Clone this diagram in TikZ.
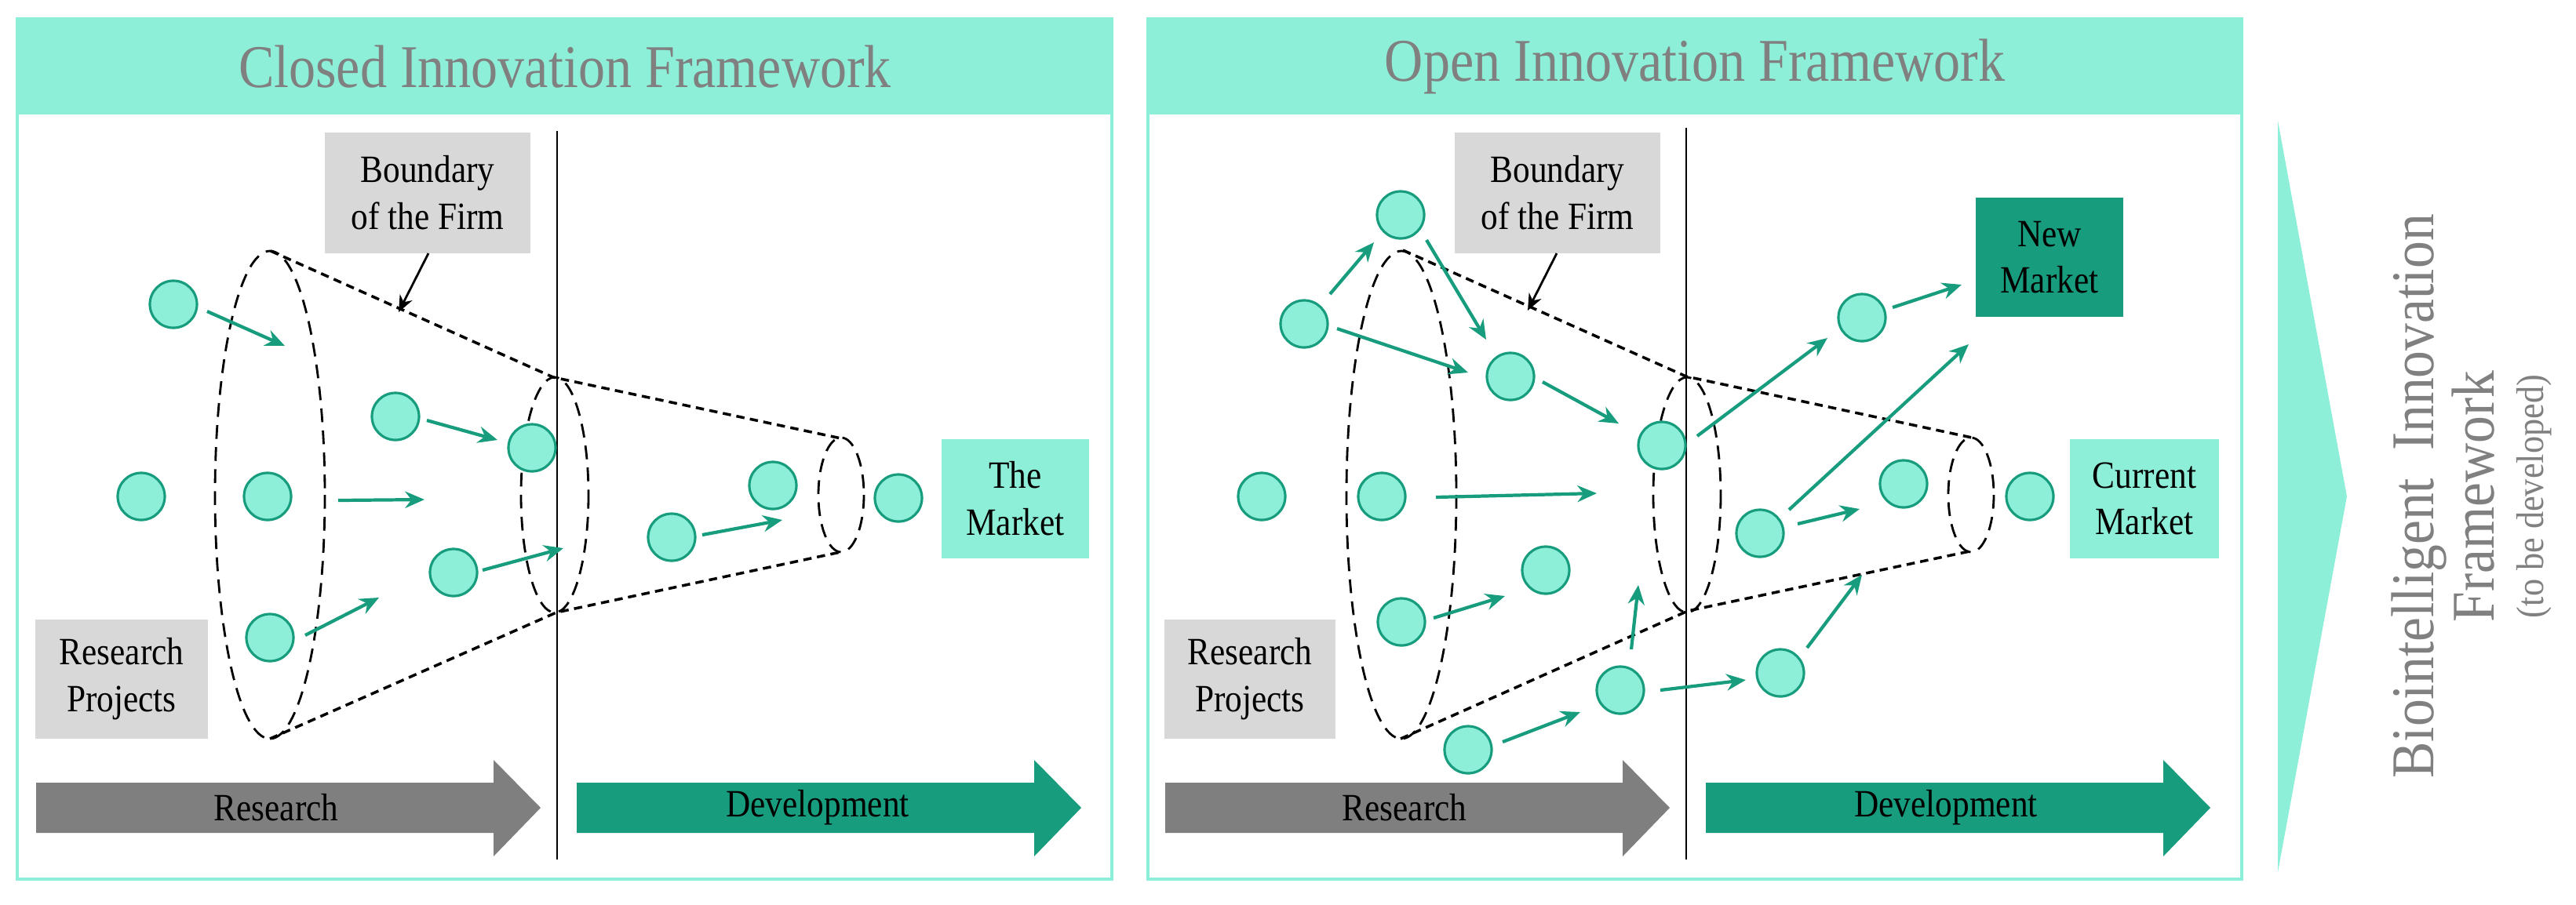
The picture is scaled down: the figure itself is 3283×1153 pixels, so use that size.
\documentclass[tikz,border=0pt]{standalone}
\usepackage{fontspec}
\setmainfont{Liberation Serif}
\usetikzlibrary{arrows.meta}
\definecolor{mint}{HTML}{8EEFD8}
\definecolor{teal}{HTML}{179C7D}
\definecolor{boxgray}{HTML}{D9D8D9}
\definecolor{txtgray}{HTML}{808080}
\definecolor{arrgray}{HTML}{7F7F7F}
\begin{document}
\begin{tikzpicture}[x=0.01cm,y=-0.01cm,
  dot/.style={circle,draw=teal,fill=mint,line width=0.9pt,minimum size=0.6cm,inner sep=0pt},
  flow/.style={teal,line width=1.2pt,-{Stealth[length=7pt,width=6pt]}},
  lbl/.style={font=\fontsize{14}{15}\selectfont,align=center,inner sep=0pt,xscale=0.88},
  title/.style={font=\fontsize{22}{24}\selectfont,text=txtgray,xscale=0.88},
  funnel/.style={line width=1pt,dash pattern=on 3pt off 2pt},
  ring/.style={line width=0.8pt,dash pattern=on 5pt off 3pt},
  frame/.style={draw=mint,line width=1.2pt}]
\useasboundingbox (0,0) rectangle (3283,1153);
% ---------- panels ----------
\foreach \xa/\xb in {22/1417,1463/2857}{
  \draw[frame] (\xa,24) rectangle (\xb,1121);
  \fill[mint] (\xa,24) rectangle (\xb,146);
}
\node[title] (t1) at (720,85) {Closed Innovation Framework};
\node[title] (t2) at (2160,85) {Open Innovation Framework};
% ---------- triangle and right text ----------
\fill[mint] (2903,154) -- (2991,633) -- (2903,1112) -- cycle;
\node[rotate=90,font=\fontsize{22}{24}\selectfont,text=txtgray,align=center,xscale=0.9] (bio) at (3150,633)
  {Biointelligent\ \ Innovation\\[-2pt]Framework\\[-6pt]{\fontsize{14}{15}\selectfont(to be developed)}};
% ---------- LEFT PANEL ----------
\draw[line width=0.8pt] (710,167) -- (710,1096);
\draw[ring] (344,631) ellipse (70 and 311);
\draw[ring] (707,631) ellipse (43 and 150);
\draw[ring] (1072,631) ellipse (29 and 73);
\draw[funnel] (345,320) -- (705,481) -- (1072,559);
\draw[funnel] (344,942) -- (709,781) -- (1071,704);
\node[fill=boxgray,minimum width=2.62cm,minimum height=1.53cm] (b1) at (545,246) {};
\node[lbl] at (b1) {Boundary\\[2pt]of the Firm};
\coordinate (b1t) at (508,398);
\draw[line width=0.8pt,-{Stealth[length=6pt,width=5pt]}] (546,323) -- (b1t);
\node[fill=boxgray,minimum width=2.19cm,minimum height=1.52cm] (r1) at (155,866) {};
\node[lbl] at (r1) {Research\\[2pt]Projects};
\node[fill=mint,minimum width=1.87cm,minimum height=1.52cm] (m1) at (1294,636) {};
\node[lbl] at (m1) {The\\[2pt]Market};
\node[dot] (a1) at (221,388) {};
\node[dot] (a2) at (504,531) {};
\node[dot] (a3) at (678,571) {};
\node[dot] (a4) at (180,633) {};
\node[dot] (a5) at (341,633) {};
\node[dot] (a6) at (985,619) {};
\node[dot] (a7) at (1145,635) {};
\node[dot] (a8) at (856,685) {};
\node[dot] (a9) at (578,730) {};
\node[dot] (a10) at (344,813) {};
\draw[flow] (264,397) -- (363,441);
\draw[flow] (544,536) -- (634,561);
\draw[flow] (431,638) -- (541,637);
\draw[flow] (895,682) -- (997,663);
\draw[flow] (615,727) -- (718,699);
\draw[flow] (389,810) -- (483,762);
\fill[arrgray] (46,998) -- (629,998) -- (629,969) -- (689,1030) -- (629,1092) -- (629,1062) -- (46,1062) -- cycle;
\node[lbl] (rs1) at (352,1030) {Research};
\fill[teal] (735,998) -- (1318,998) -- (1318,969) -- (1378,1030) -- (1318,1092) -- (1318,1062) -- (735,1062) -- cycle;
\node[lbl] (dv1) at (1042,1030) {Development};
% ---------- RIGHT PANEL ----------
\draw[line width=0.8pt] (2149,163) -- (2149,1096);
\draw[ring] (1786,631) ellipse (70 and 311);
\draw[ring] (2150,631) ellipse (43 and 150);
\draw[ring] (2512,631) ellipse (29 and 73);
\draw[funnel] (1788,319) -- (2149,480) -- (2513,558);
\draw[funnel] (1785,942) -- (2151,779) -- (2510,703);
\node[fill=boxgray,minimum width=2.61cm,minimum height=1.54cm] (b2) at (1985,246) {};
\node[lbl] at (b2) {Boundary\\[2pt]of the Firm};
\coordinate (b2t) at (1947,396);
\draw[line width=0.8pt,-{Stealth[length=6pt,width=5pt]}] (1984,323) -- (b2t);
\node[fill=boxgray,minimum width=2.17cm,minimum height=1.52cm] (r2) at (1593,866) {};
\node[lbl] at (r2) {Research\\[2pt]Projects};
\node[fill=teal,minimum width=1.88cm,minimum height=1.52cm] (nm) at (2612,328) {};
\node[lbl] at (nm) {New\\[2pt]Market};
\node[fill=mint,minimum width=1.90cm,minimum height=1.52cm] (cm) at (2733,636) {};
\node[lbl] at (cm) {Current\\[2pt]Market};
\node[dot] (c1) at (1785,274) {};
\node[dot] (c2) at (1662,413) {};
\node[dot] (c3) at (1925,480) {};
\node[dot] (c4) at (2118,568) {};
\node[dot] (c5) at (2373,405) {};
\node[dot] (c6) at (2426,617) {};
\node[dot] (c7) at (2587,633) {};
\node[dot] (c8) at (2243,680) {};
\node[dot] (c9) at (1608,633) {};
\node[dot] (c10) at (1761,633) {};
\node[dot] (c11) at (1970,727) {};
\node[dot] (c12) at (1786,793) {};
\node[dot] (c13) at (2065,880) {};
\node[dot] (c14) at (2269,858) {};
\node[dot] (c15) at (1871,956) {};
\draw[flow] (1695,375) -- (1751,309);
\draw[flow] (1818,306) -- (1894,433);
\draw[flow] (1704,419) -- (1871,475);
\draw[flow] (1966,487) -- (2063,540);
\draw[flow] (2163,556) -- (2329,431);
\draw[flow] (2412,392) -- (2500,363);
\draw[flow] (2280,650) -- (2509,439);
\draw[flow] (2291,668) -- (2370,649);
\draw[flow] (1830,634) -- (2035,629);
\draw[flow] (1827,788) -- (1918,760);
\draw[flow] (2079,828) -- (2088,746);
\draw[flow] (2303,826) -- (2373,733);
\draw[flow] (2116,880) -- (2225,867);
\draw[flow] (1915,946) -- (2014,908);
\fill[arrgray] (1485,998) -- (2068,998) -- (2068,969) -- (2128,1030) -- (2068,1092) -- (2068,1062) -- (1485,1062) -- cycle;
\node[lbl] (rs2) at (1790,1030) {Research};
\fill[teal] (2174,998) -- (2757,998) -- (2757,969) -- (2817,1030) -- (2757,1092) -- (2757,1062) -- (2174,1062) -- cycle;
\node[lbl] (dv2) at (2480,1030) {Development};
\end{tikzpicture}
\end{document}
